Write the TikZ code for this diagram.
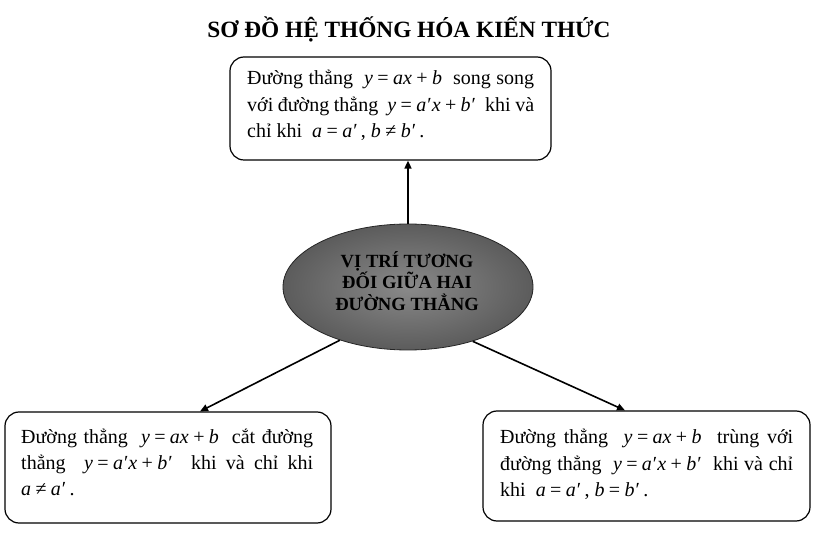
\documentclass[tikz,border=0pt]{standalone}
\usepackage{fontspec}
\setmainfont{Liberation Serif}
\usetikzlibrary{arrows.meta,shapes.geometric}
\newcommand{\mv}[1]{\textit{#1}}
\newcommand{\pr}{\kern0.05em′}
\newcommand{\op}[1]{\kern0.22em#1\kern0.22em}
\begin{document}
\begin{tikzpicture}[x=1pt,y=-1pt,
  box/.style={draw=black,line width=1.2pt,rounded corners=14pt,inner sep=0pt},
  txt/.style={anchor=north west,inner sep=0pt,text width=#1,align=justify,font=\fontsize{20}{26.4}\selectfont},
  conn/.style={line width=1.6pt,-{Triangle[length=8pt,width=7pt]}}]
\useasboundingbox (0,0) rectangle (823,537);
\node[font=\fontsize{23.3}{26}\selectfont\bfseries] (title) at (409,29) {SƠ ĐỒ HỆ THỐNG HÓA KIẾN THỨC};
% boxes
\node[box,minimum width=321pt,minimum height=103pt] (top) at (390.5,108.5) {};
\node[box,minimum width=326pt,minimum height=111pt] (left) at (168,467.5) {};
\node[box,minimum width=327pt,minimum height=110pt] (right) at (646.5,466) {};
\node[txt=287pt] (toptext) at (247,70) {Đường thẳng \ \mv{y}\op{=}\mv{ax}\op{+}\mv{b} \ song song\linebreak với đường thẳng \ \mv{y}\op{=}\mv{a}\pr\mv{x}\op{+}\mv{b}\pr\ \ khi và\linebreak chỉ khi \ \mv{a}\op{=}\mv{a}\pr\,, \mv{b}\op{≠}\mv{b}\pr\,.};
\node[txt=292pt] (lefttext) at (21,428.5) {Đường thẳng \ \mv{y}\op{=}\mv{ax}\op{+}\mv{b} \ cắt đường\linebreak thẳng \ \mv{y}\op{=}\mv{a}\pr\mv{x}\op{+}\mv{b}\pr\ \ khi và chỉ khi\linebreak \mv{a}\op{≠}\mv{a}\pr\,.};
\node[txt=293pt] (righttext) at (500,429) {Đường thẳng \ \mv{y}\op{=}\mv{ax}\op{+}\mv{b} \ trùng với\linebreak đường thẳng \ \mv{y}\op{=}\mv{a}\pr\mv{x}\op{+}\mv{b}\pr\ \ khi và chỉ\linebreak khi \ \mv{a}\op{=}\mv{a}\pr\,, \mv{b}\op{=}\mv{b}\pr\,.};
% ellipse
\node[ellipse,draw=black!85,line width=0.8pt,inner color=black!46,outer color=black!64,minimum width=250pt,minimum height=126pt,inner sep=0pt] (center) at (408,287) {};
\node[font=\fontsize{18.6}{21.5}\selectfont\bfseries,align=center,text=black] (ctext) at (407,281) {VỊ TRÍ TƯƠNG\\ĐỐI GIỮA HAI\\ĐƯỜNG THẲNG};
% connectors
\draw[conn] (center.north) -- (top.south -| center.north);
\draw[conn] (center.-142) -- (left.north -| 200,0);
\draw[conn] (center.-40) -- (right.north -| 625,0);
\end{tikzpicture}
\end{document}
